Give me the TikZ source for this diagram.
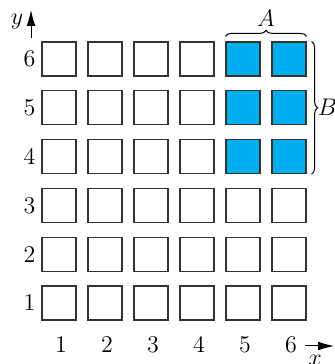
\documentclass[tikz,border=0pt]{standalone}
\usetikzlibrary{arrows.meta,decorations.pathreplacing}
\definecolor{CellBlue}{HTML}{00AEEF}
\definecolor{CellStroke}{HTML}{333333}
\begin{document}
\begin{tikzpicture}[x=0.5pt,y=0.5pt,font=\large,
  cell/.style={draw=CellStroke,line width=0.6pt,minimum size=17pt,inner sep=0pt},
  filled/.style={cell,fill=CellBlue},
  axis/.style={line width=0.5pt,-{Latex[length=8pt,width=4.4pt]}},
  bracket/.style={decorate,decoration={brace,amplitude=3pt},line width=0.5pt}]
  \useasboundingbox (0,0) rectangle (334,364);

  % grid of cells, the block A x B is filled
  \foreach \c in {1,...,6}{
    \foreach \r in {1,...,6}{
      \pgfmathtruncatemacro\hit{and(\c>4,\r>3)}
      \ifnum\hit=1 \def\look{filled}\else\def\look{cell}\fi
      \node[\look] (sq-\c-\r) at ({59+46*(\c-1)},{12.2+48.8*\r}) {};
    }
  }
  \foreach \r in {1,...,6}
    \node (ry-\r) at (29.5,{12.2+48.8*\r}) {\r};
  \foreach \c in {1,...,6}
    \node (cx-\c) at ({61+46*(\c-1)},19.5) {\c};

  % axes
  \coordinate (y0) at (31,326);
  \coordinate (y1) at (31,354);
  \draw[axis] (y0) -- (y1);
  \node (ylab) at (17,342) {$y$};
  \coordinate (x0) at (305,18);
  \coordinate (x1) at (334,18);
  \draw[axis] (x0) -- (x1);
  \node (xlab) at (315,4) {$x$};

  % braces
  \draw[bracket] ([yshift=2.5pt]sq-5-6.north west) -- ([yshift=2.5pt]sq-6-6.north east)
    node[midway,above=1.5pt] (alab) {$A$};
  \draw[bracket] ([xshift=2.5pt]sq-6-6.north east) -- ([xshift=2.5pt]sq-6-4.south east)
    node[midway,right=-0.5pt] (blab) {$B$};
\end{tikzpicture}
\end{document}
